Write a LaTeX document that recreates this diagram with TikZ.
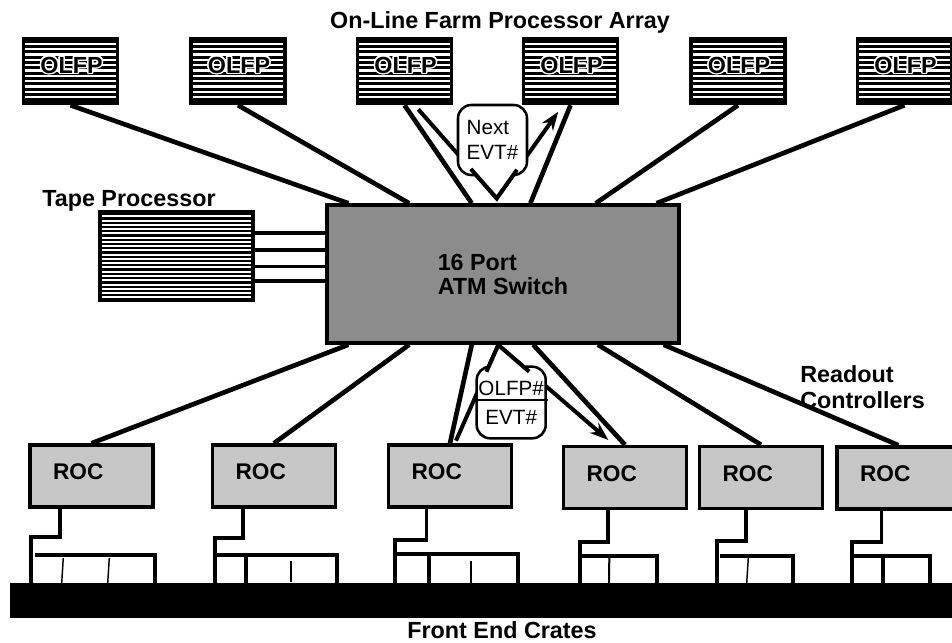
\documentclass[tikz,border=0pt]{standalone}
\usepackage{fontspec}
\setmainfont{Liberation Sans}
\usepackage{contour}
\contourlength{1.1pt}
\usetikzlibrary{calc,arrows.meta}
\begin{document}
\begin{tikzpicture}[x=0.75pt,y=-0.75pt,
  conn/.style={line width=3.5pt},
  vline/.style={line width=3pt},
  tapeln/.style={line width=2.6pt},
  crate/.style={line width=2.6pt},
  thinln/.style={line width=1.1pt},
  lbl/.style={inner sep=0pt,font=\fontsize{17.5pt}{20pt}\selectfont\bfseries},
  olfpbox/.style={draw,line width=2.6pt,fill=black,minimum width=70.5pt,minimum height=48.75pt,inner sep=0pt,
    path picture={\foreach \k in {1,...,11}{\draw[white,line width=1.6pt] ([yshift=-\k*4pt]path picture bounding box.north west) -- ([yshift=-\k*4pt]path picture bounding box.north east);}}},
  olfptxt/.style={inner sep=0pt,font=\fontsize{17.5pt}{20pt}\selectfont\bfseries},
  tapebox/.style={draw,line width=2.6pt,fill=black,minimum width=114.75pt,minimum height=66pt,inner sep=0pt,
    path picture={\foreach \k in {1,...,20}{\draw[white,line width=1.5pt] ([yshift=-\k*3.2pt]path picture bounding box.north west) -- ([yshift=-\k*3.2pt]path picture bounding box.north east);}}},
  switchbox/.style={draw,line width=2.6pt,fill=black!45,minimum width=264pt,minimum height=103.5pt,inner sep=0pt,align=left,
    font=\fontsize{17.5pt}{18pt}\selectfont\bfseries},
  rocbox/.style={draw,line width=2.6pt,fill=black!22,minimum width=92.25pt,minimum height=46.5pt,inner sep=0pt},
  roctxt/.style={inner sep=0pt,font=\fontsize{17pt}{20pt}\selectfont\bfseries},
  bubble/.style={draw,fill=white,line width=1.9pt,rounded corners=10pt,inner sep=0pt},
  tip/.style={-{Stealth[length=14pt,width=10pt]}}
]
\clip (0,0) rectangle (952,642);
\fill[white] (0,0) rectangle (952,642);

% title
\node[lbl,anchor=base] (title) at (500,28.3) {On-Line Farm Processor Array};

% OLFP boxes
\foreach \n/\x in {o1/70.5,o2/238,o3/404.5,o4/570.5,o5/738,o6/904.5}{
  \node[olfpbox] (\n) at (\x,71) {};
  \node[olfptxt] (\n t) at ($(\n.center)+(1,-5)$) {\contour{white}{OLFP}};
}

% switch
\node[switchbox] (sw) at (503,274) {16 Port\\ATM Switch};

% tape processor
\node[tapebox] (tp) at (176.5,256) {};
\node[lbl,anchor=base west] (tpl) at (42,206.7) {Tape Processor};
\foreach \f in {0.25,0.432,0.614,0.773}{
  \coordinate (tpk) at ($(tp.north east)!\f!(tp.south east)$);
  \draw[tapeln] (tpk) -- (tpk -| sw.west);
}

% ROC boxes
\node[rocbox] (r1) at (91.5,476) {};
\node[rocbox] (r2) at (274,476) {};
\node[rocbox] (r3) at (450,476) {};
\node[rocbox] (r4) at (625,477.5) {};
\node[rocbox] (r5) at (761,477.5) {};
\node[rocbox] (r6) at (898.5,478) {};
\foreach \r in {r1,r2,r3,r4,r5,r6}{
  \node[roctxt] (\r t) at ($(\r.west)+(50,-4)$) {ROC};
}

% connectors OLFP -> switch
\foreach \f/\o in {0.065/o1,0.236/o2,0.412/o3,0.577/o4,0.761/o5,0.932/o6}{
  \draw[conn] (\o.south) -- ($(sw.north west)!\f!(sw.north east)$);
}
% connectors switch -> ROC
\foreach \f/\r in {0.065/r1,0.236/r2,0.412/r3,0.585/r4,0.767/r5,0.952/r6}{
  \draw[conn] ($(sw.south west)!\f!(sw.south east)$) -- (\r.north);
}

% Next EVT# message
\coordinate (n1) at (418.3,109.3);
\coordinate (n2) at (496.7,198.3);
\coordinate (n3) at (558.3,111.7);
\draw[vline,tip] (n1) -- (n2) -- (n3);
\node[bubble,minimum width=51.75pt,minimum height=52.5pt,align=left,font=\fontsize{15.5pt}{18.75pt}\selectfont] (b1) at (492.5,140) {Next\\EVT\#};
\fill[white] ($(n2)!0.3!(n1)$) -- (n2) -- ($(n2)!0.3!(n3)$) -- cycle;
\draw[vline] ($(n2)!0.33!(n1)$) -- (n2) -- ($(n2)!0.33!(n3)$);

% OLFP# / EVT# message
\coordinate (m1) at (456,440.7);
\coordinate (m2) at (498.3,345);
\coordinate (m3) at (608.3,440);
\draw[vline,tip] (m1) -- (m2) -- (m3);
\node[bubble,minimum width=51.75pt,minimum height=53.7pt,align=center,font=\fontsize{15.5pt}{21.75pt}\selectfont] (b2) at (511.2,402.5) {OLFP\#\\EVT\#};
\draw[line width=1.9pt] ($(b2.west)+(0,-2.5)$) -- ($(b2.east)+(1,-2.5)$);
\fill[white] ($(m2)!0.25!(m1)$) -- (m2) -- ($(m2)!0.25!(m3)$) -- cycle;
\draw[vline] ($(m2)!0.28!(m1)$) -- (m2) -- ($(m2)!0.28!(m3)$);

% Readout controllers label
\node[lbl,anchor=north west,align=left] (rdl) at (800,365) {Readout\\Controllers};

% front end crates
\draw[crate] ($(r1.south west)!0.25!(r1.south east)$) |- (31,537) -- (31,583);
\draw[crate] (35,555) -- (155,555) -- (155,583);
\draw[thinln] (63.3,558) -- (61.7,583);
\draw[thinln] (109.3,558) -- (107.7,583);

\draw[crate] ($(r2.south west)!0.254!(r2.south east)$) |- (215,538) -- (215,583);
\draw[crate] (215,555) -- (337,555) -- (337,583);
\draw[crate] (246,555) -- (246,583);
\draw[thinln] (291,561) -- (291,582);

\draw[crate] ($(r3.south west)!0.315!(r3.south east)$) |- (395,540) -- (395,583);
\draw[crate] (397,554) -- (518,554) -- (518,583);
\draw[crate] (429,554) -- (429,583);
\draw[thinln] (471,561) -- (471,583);

\draw[crate] ($(r4.south west)!0.365!(r4.south east)$) |- (580,542) -- (580,583);
\draw[crate] (580,556) -- (657,556) -- (657,583);
\draw[line width=1.5pt] (609.3,558) -- (609,583);

\draw[crate] ($(r5.south west)!0.38!(r5.south east)$) |- (717,541) -- (717,583);
\draw[crate] (720,556) -- (793,556) -- (793,583);
\draw[thinln] (748.3,558) -- (746.7,583);

\draw[crate] ($(r6.south west)!0.366!(r6.south east)$) |- (852,542) -- (852,583);
\draw[crate] (852,556) -- (930,556) -- (930,583);
\draw[crate] (883,556) -- (883,583);

\fill[black] (10,583) rectangle (960,618);
\node[lbl,anchor=base] (fec) at (502,638.5) {Front End Crates};
\end{tikzpicture}
\end{document}
